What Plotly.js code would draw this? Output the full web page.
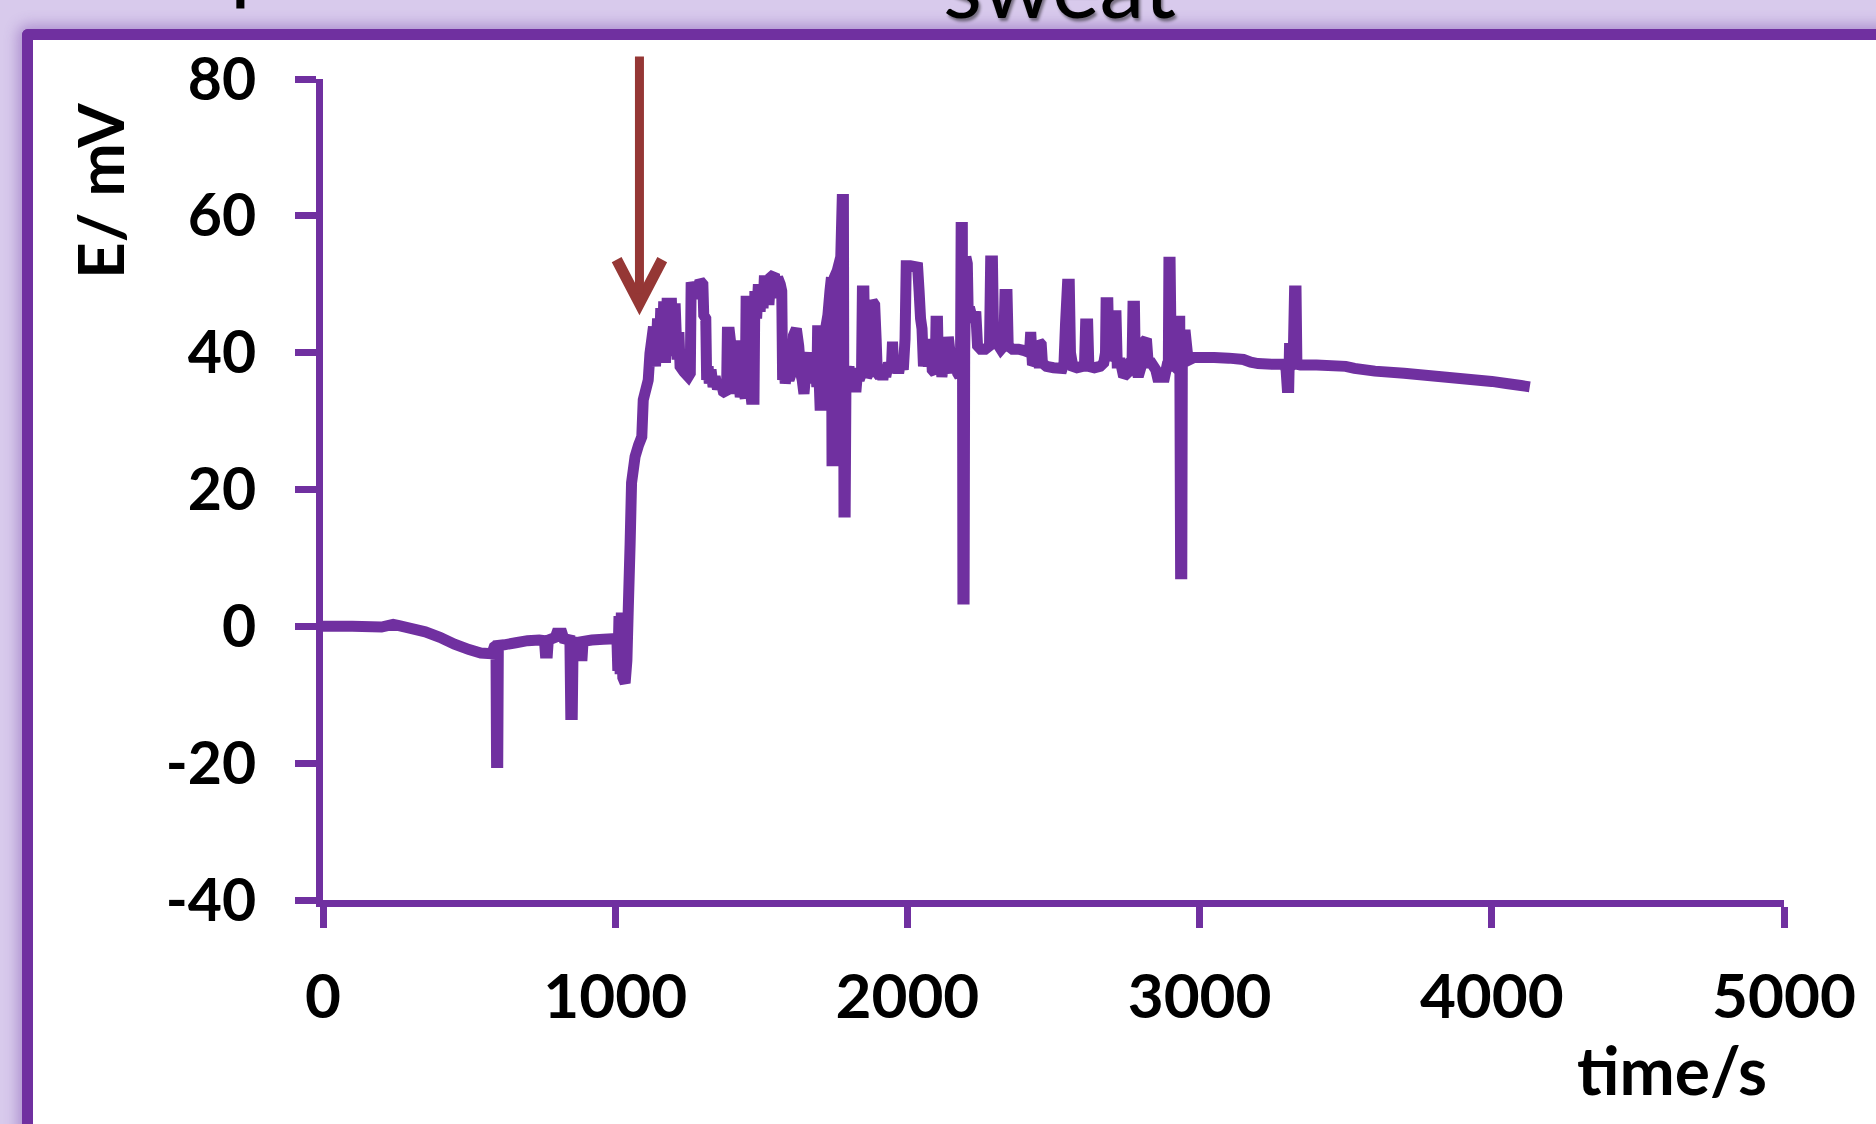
<!DOCTYPE html>
<html>
<head>
<meta charset="utf-8">
<script src="https://cdn.plot.ly/plotly-3.0.1.min.js"></script>
<style>
  html, body { margin:0; padding:0; width:1876px; height:1124px; overflow:hidden; background:#d8caec; }
  #frame { position:absolute; left:22px; top:29px; width:1920px; height:1200px; background:#ffffff;
           border-top:11px solid #7030a0; border-left:11px solid #7030a0; border-top-left-radius:6px;
           box-shadow:0 0 14px 4px rgba(120,70,170,0.45); }
  #chart { position:absolute; left:0; top:0; width:1876px; height:1124px; }
</style>
</head>
<body>
<div id="frame"></div>
<div id="chart"></div>
<script>
// ---- data ----
const timeS = [
  0,100,200,240,260,300,350,400,450,500,540,578,586,592,594,598,600,620,660,700,740,758,761,768,771,795,800,818,824,845,848,853,856,866,869,887,890,920,960,1000,
  1006,1009,1013,1017,1021,1026,1034,1040,1045,1051,1056,1068,1080,1091,1096,1113,1119,1131,1138,1145,1150,1156,1161,1166,1172,1178,1185,1192,1198,1205,1212,1218,1222,1235,1250,1257,
  1260,1275,1290,1300,1303,1310,1313,1318,1322,1328,1335,1342,1350,1360,1370,1381,1384,1391,1395,1399,1405,1410,1414,1418,1423,1428,1436,1445,1448,1452,1455,1460,1466,1475,1478,1484,1490,1496,1500,1506,1510,1520,1526,1532,1545,1550,1556,1565,1570,
  1573,1578,1582,1588,1595,1603,1610,1620,1628,1635,1640,1646,1652,1660,1667,1672,1677,1682,1686,1690,1693,1698,1701,1706,1710,1718,1722,1728,1735,1740,1742,1747,1750,1760,1772,1777,1781,1783,1787,1790,
  1796,1800,1805,1810,1815,1820,1825,1830,1835,1843,1846,1851,1855,1861,1868,1872,1880,1888,1893,1897,1906,1911,1916,1921,1926,1935,1945,1949,1954,1962,1970,1978,1986,1992,1996,2010,2035,2040,2045,2050,2055,2064,2072,2080,2085,
  2095,2098,2103,2106,2112,2118,2125,2135,2140,2146,2151,2156,2161,2167,2172,2179,
  2182,2184,2188,2190,2194,2196,2200,2205,2208,2216,2225,2234,2240,2251,2266,2281,2285,2291,2295,2305,2320,2330,2334,2341,
  2345,2360,2380,2400,2418,2422,2428,2433,2445,2450,2458,2462,2476,2500,2530,2536,2541,2548,2554,2558,2566,2580,2600,2606,2610,2617,2621,2640,2660,2672,2678,2680,2686,2690,2705,2708,
  2714,2718,2730,2740,2752,2760,2769,2772,2777,2780,2790,2800,2808,2818,2824,2835,2850,2856,2880,2888,2893,2895,2899,2903,2915,2924,2928,2932,2935,2939,2941,2950,2958,2966,2980,3000,
  3050,3100,3150,3175,3200,3250,3290,3296,3300,3305,3308,3312,3320,3325,3330,3333,3345,3400,3500,3530,3600,3700,3800,3900,4000,4050,4100,4130
];
const potentialMV = [
  0,0,-0.1,0.3,0.1,-0.3,-0.8,-1.6,-2.6,-3.4,-3.9,-4.0,-3.0,-2.8,-19.9,-19.9,-2.8,-2.7,-2.4,-2.1,-2.0,-2.1,-3.9,-3.9,-2.0,-1.6,-1.0,-1.0,-1.8,-2.0,-12.9,-12.9,-2.2,-2.3,-4.3,-4.3,-2.2,-2.0,-1.9,-1.8,
  -2.0,-6.5,1.5,-7.0,2.0,-7.5,-8.3,-5.0,3.0,12.0,21.0,24.8,26.5,27.7,33.1,36.0,39.9,43.8,38.0,45.0,38.5,46.5,39.0,47.5,38.5,48.0,39.5,48.0,40.0,47.2,39.0,43.0,38.0,37.2,36.5,37.0,
  50.3,48.0,50.5,50.0,45.5,45.0,36.0,38.0,35.5,37.5,35.0,36.5,34.7,36.0,34.3,34.0,43.0,43.0,41.5,34.5,36.5,34.0,41.8,34.0,36.0,33.5,35.5,33.3,47.5,47.5,33.5,35.5,33.2,33.2,49.0,45.0,50.0,46.0,49.5,46.5,50.5,50.5,47.0,51.0,51.5,48.0,51.0,50.0,49.0,
  36.0,38.0,35.5,37.5,36.0,37.0,42.5,43.5,41.0,37.0,36.0,34.0,37.0,38.0,40.0,37.0,39.0,35.5,38.0,35.0,44.0,36.0,32.3,32.3,36.0,37.0,44.0,45.5,49.0,51.0,24.2,24.2,51.0,52.0,54.0,62.4,62.4,16.7,16.7,38.0,
  36.0,38.0,35.5,37.5,37.0,35.0,35.0,37.5,36.0,37.0,49.0,49.0,38.0,36.5,37.0,46.0,47.5,47.0,42.0,37.0,36.5,38.0,36.0,38.0,36.5,38.5,37.5,41.6,37.0,39.0,37.0,39.0,37.5,42.0,52.7,52.7,52.5,49.0,45.0,43.5,38.0,41.0,38.0,42.0,37.5,
  37.0,44.6,44.6,38.0,39.0,36.5,38.5,37.0,42.3,40.0,37.0,39.0,37.5,39.0,37.0,36.5,
  40.0,58.3,58.3,4.0,4.0,40.0,54.0,53.0,46.0,46.0,44.5,46.0,41.0,40.5,40.5,41.0,53.4,53.4,42.0,41.5,40.5,41.0,48.5,48.5,
  41.0,40.5,40.5,40.3,40.0,43.0,38.2,38.5,38.5,41.6,41.2,38.5,38.0,37.8,37.7,38.5,44.0,50.0,50.0,40.0,38.0,37.8,38.0,38.0,44.2,44.2,38.0,37.8,38.0,38.5,40.0,47.3,47.3,39.0,40.0,45.4,
  45.4,38.5,38.5,36.5,37.0,38.5,39.0,46.8,46.8,38.0,36.5,38.0,41.5,42.0,38.5,38.5,37.5,36.4,36.4,38.0,38.0,53.2,53.2,38.5,38.0,39.0,44.6,44.6,7.7,7.7,42.0,43.3,40.0,39.0,39.3,39.3,
  39.3,39.2,39.0,38.6,38.4,38.3,38.3,37.5,34.9,34.9,41.4,38.0,38.3,49.0,49.0,38.3,38.2,38.2,38.0,37.7,37.3,37.0,36.6,36.2,35.8,35.5,35.2,35.0
];
const xTickVals = [0, 1000, 2000, 3000, 4000, 5000];
const xTickText = ['0', '1000', '2000', '3000', '4000', '5000'];
const yTickVals = [-40, -20, 0, 20, 40, 60, 80];
const yTickText = ['-40', '-20', '0', '20', '40', '60', '80'];
// sample-addition marker (arrow): time of the arrow, potential of tip / tail, head half-width (s) and head height (mV)
const arrowTime = [1083];
const arrowTipTail = [47.2, 83.5];
const arrowHead = [78, 6.4];

const purple = '#7030a0';
const arrowRed = '#953735';

const axisCommon = {
  showline: true, linecolor: purple, linewidth: 7,
  ticks: 'outside', ticklen: 21, tickwidth: 7, tickcolor: purple,
  showgrid: false, zeroline: false, fixedrange: true
};

const trace = {
  x: timeS, y: potentialMV, type: 'scatter', mode: 'lines',
  line: { color: purple, width: 11, simplify: false },
  hoverinfo: 'skip'
};

const t0 = arrowTime[0], tip = arrowTipTail[0];
const chevronPath = 'M' + (t0 - arrowHead[0]) + ',' + (tip + arrowHead[1]) +
                    ' L' + t0 + ',' + tip +
                    ' L' + (t0 + arrowHead[0]) + ',' + (tip + arrowHead[1]);

const layout = {
  width: 1876, height: 1124,
  margin: { l: 323, r: 92, t: 79, b: 224, pad: 0 },
  paper_bgcolor: 'rgba(0,0,0,0)', plot_bgcolor: 'rgba(0,0,0,0)',
  showlegend: false,
  xaxis: Object.assign({}, axisCommon, {
    range: [0, 5000], tickvals: xTickVals, ticktext: xTickText,
    tickfont: { family: 'Lato', size: 62, color: '#000', weight: 700 },
    ticklabelstandoff: 16
  }),
  yaxis: Object.assign({}, axisCommon, {
    range: [-40, 80], tickvals: yTickVals, ticktext: yTickText,
    tickfont: { family: 'Lato', size: 59, color: '#000', weight: 700 },
    ticklabelstandoff: 27
  }),
  shapes: [
    { type: 'path', xref: 'x', yref: 'y', path: chevronPath, layer: 'above',
      line: { color: arrowRed, width: 11 } }
  ],
  annotations: [
    { text: 'E/ mV', xref: 'paper', yref: 'paper', x: -0.1526, y: 0.8636, xanchor: 'center', yanchor: 'middle',
      textangle: -90, showarrow: false, font: { family: 'Lato', size: 64, color: '#000', weight: 700 } },
    { text: 'time/s', xref: 'paper', yref: 'paper', x: 0.9233, y: -0.207, xanchor: 'center', yanchor: 'middle',
      showarrow: false, font: { family: 'Lato', size: 66, color: '#000', weight: 700 } },
    { text: 'sweat', xref: 'paper', yref: 'paper', x: 0.5044, y: 1.049, xanchor: 'center', yanchor: 'bottom',
      showarrow: false, font: { family: 'Lato', size: 90, color: '#000', shadow: '2px 3px 3px rgba(0,0,0,0.45)' } },
    { text: 'p', xref: 'paper', yref: 'paper', x: -0.0465, y: 1.0792, xanchor: 'center', yanchor: 'bottom',
      showarrow: false, font: { family: 'Lato', size: 90, color: '#000' } },
    { text: '', xref: 'x', yref: 'y', x: t0, y: tip + 1.5,
      axref: 'x', ayref: 'y', ax: t0, ay: arrowTipTail[1],
      showarrow: true, arrowhead: 0, arrowwidth: 9, arrowcolor: arrowRed, standoff: 0 }
  ]
};

Plotly.newPlot('chart', [trace], layout, { staticPlot: true, displayModeBar: false });
</script>
</body>
</html>
